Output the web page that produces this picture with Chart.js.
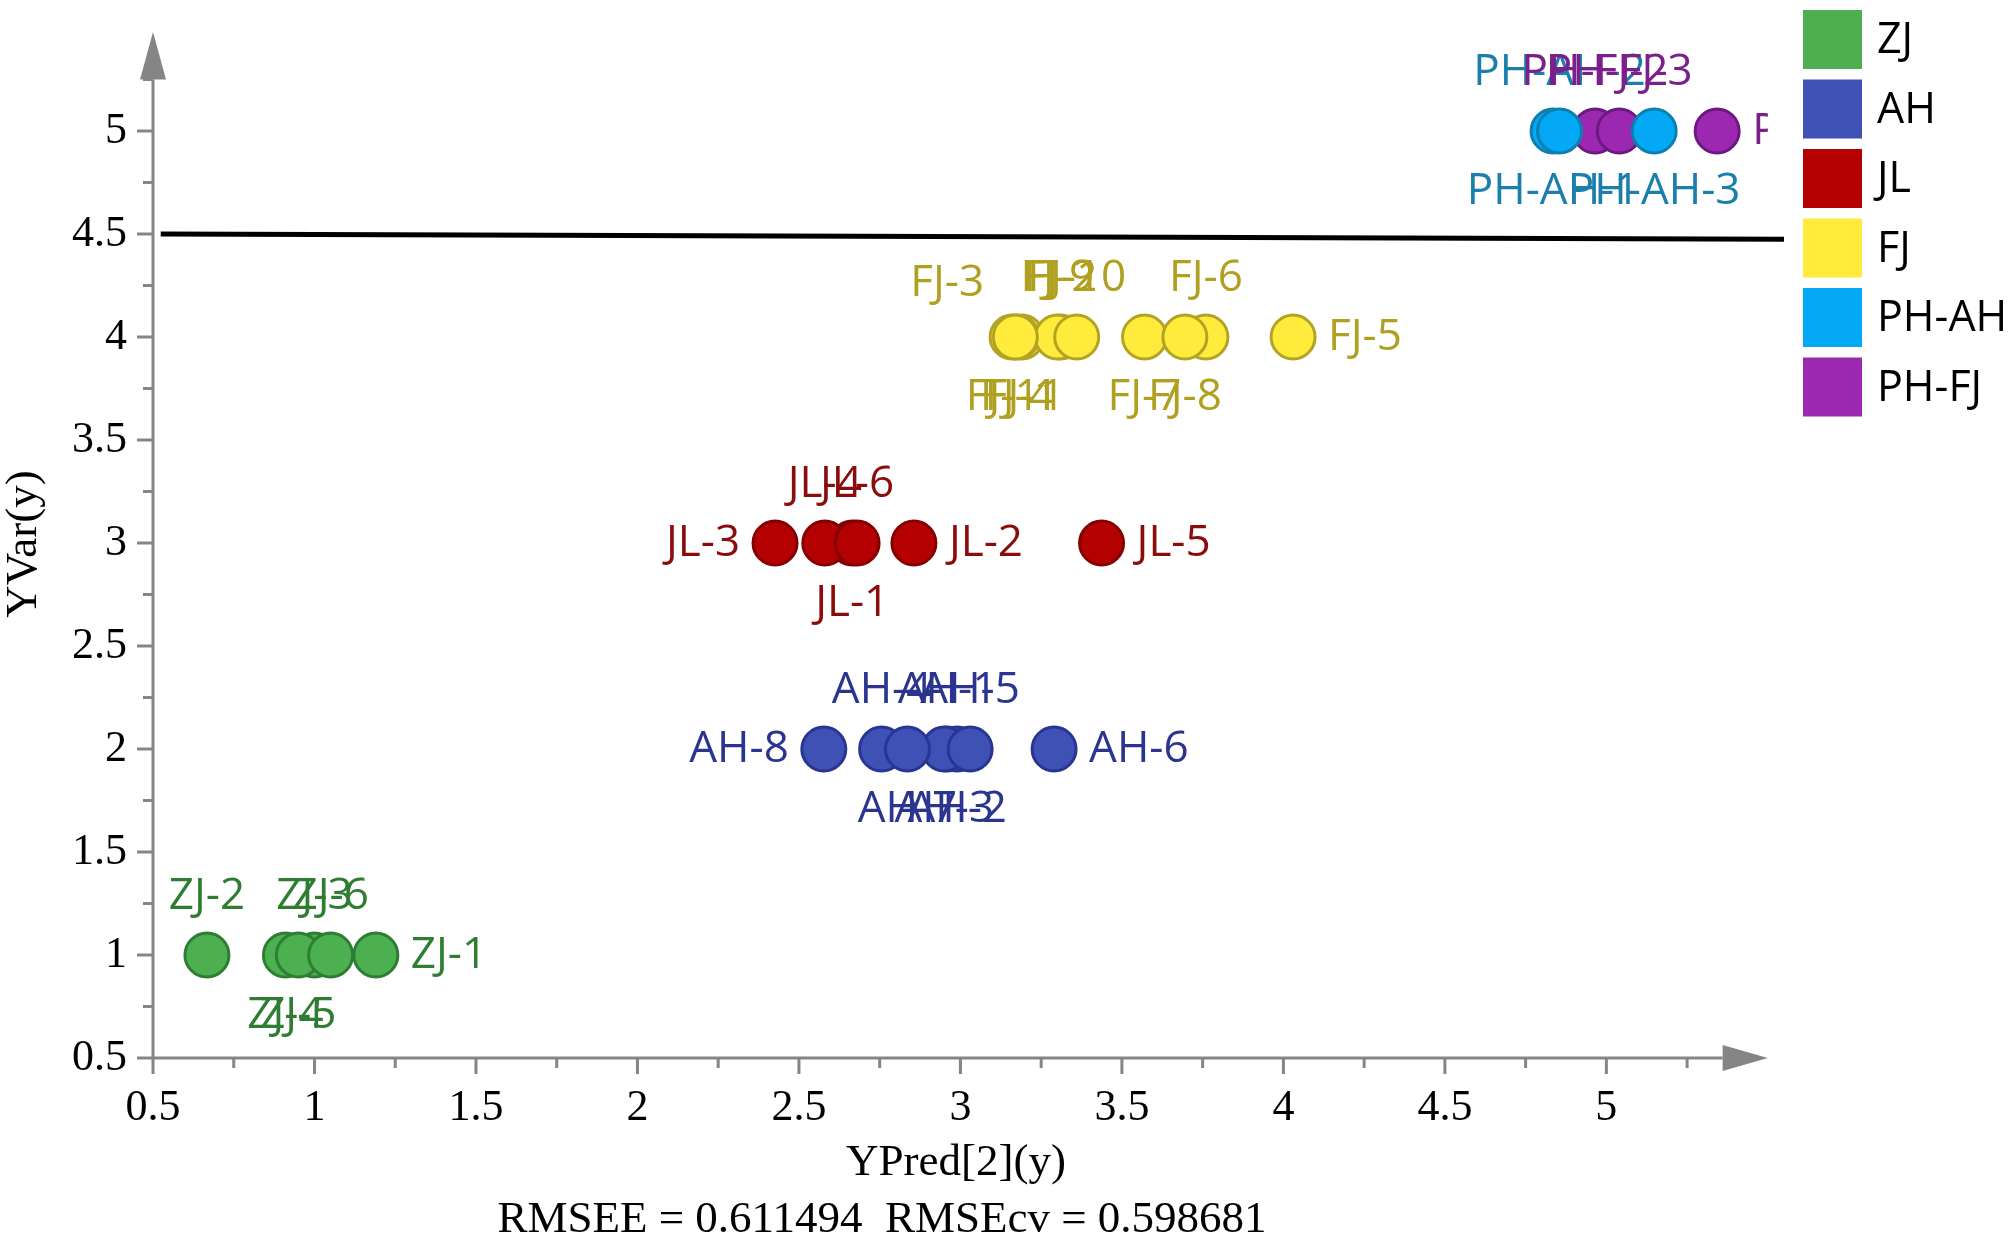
<!DOCTYPE html>
<html><head><meta charset="utf-8">
<script src="https://cdn.jsdelivr.net/npm/chart.js@4.4.1/dist/chart.umd.min.js"></script>
<style>html,body{margin:0;padding:0;background:#fff;overflow:hidden}#wrap{width:2015px;height:1248px;position:relative}canvas{display:block}</style>
</head><body><div id="wrap"><canvas id="c" width="2015" height="1248"></canvas></div>
<script>
// ---------- data ----------
const groups = ['ZJ','AH','JL','FJ','PH-AH','PH-FJ'];

const zjNames = ['ZJ-1','ZJ-2','ZJ-3','ZJ-4','ZJ-5','ZJ-6'];
const zjX = [1.19, 0.667, 1.0, 0.91, 0.95, 1.05];
const zjY = [1, 1, 1, 1, 1, 1];

const ahNames = ['AH-1','AH-2','AH-3','AH-4','AH-5','AH-6','AH-7','AH-8'];
const ahX = [2.96, 2.99, 2.95, 2.756, 3.03, 3.29, 2.836, 2.577];
const ahY = [2, 2, 2, 2, 2, 2, 2, 2];

const jlNames = ['JL-1','JL-2','JL-3','JL-4','JL-5','JL-6'];
const jlX = [2.665, 2.856, 2.426, 2.58, 3.437, 2.68];
const jlY = [3, 3, 3, 3, 3, 3];

const fjNames = ['FJ-1','FJ-2','FJ-3','FJ-4','FJ-5','FJ-6','FJ-7','FJ-8','FJ-9','FJ-10','FJ-11'];
const fjX = [3.19, 3.31, 3.16, 3.175, 4.03, 3.76, 3.57, 3.695, 3.30, 3.36, 3.17];
const fjY = [4, 4, 4, 4, 4, 4, 4, 4, 4, 4, 4];

const phahNames = ['PH-AH-1','PH-AH-2','PH-AH-3'];
const phahX = [4.835, 4.855, 5.148];
const phahY = [5, 5, 5];

const phfjNames = ['PH-FJ-1','PH-FJ-2','PH-FJ-3'];
const phfjX = [5.343, 4.965, 5.04];
const phfjY = [5, 5, 5];

const refLineX = [0.524, 5.55];
const refLineY = [4.5, 4.475];

const xTickValues = [0.5, 1, 1.5, 2, 2.5, 3, 3.5, 4, 4.5, 5];
const yTickValues = [0.5, 1, 1.5, 2, 2.5, 3, 3.5, 4, 4.5, 5];
const xTitle = 'YPred[2](y)';
const yTitle = 'YVar(y)';
const footNote = 'RMSEE = 0.611494  RMSEcv = 0.598681';

// ---------- label placement (style, not data) ----------
const zjLabelPos = ['right','top','top','bottom','bottom','top'];
const ahLabelPos = ['top','bottom','bottom','top','top','right','bottom','left'];
const jlLabelPos = ['bottom','right','left','top','right','top'];
const fjLabelPos = ['bottom','top','topleft','bottom','right','top','bottom','bottom','top','top','bottom'];
const phahLabelPos = ['bottom','top','bottom'];
const phfjLabelPos = ['right','top','top'];

const fills   = ['#4caf50','#3f51b5','#b40000','#ffeb3b','#03a9f4','#9c27b0'];
const borders = ['#2e7d32','#283593','#870000','#b3a325','#0c7fb0','#6c1a80'];
const textCol = ['#2e7d32','#2b3590','#8a0c0c','#b0a020','#1b7fab','#7b1f8a'];

function pts(xs, ys){ return xs.map((x,i)=>({x:x, y:ys[i]})); }
const seriesX = [zjX, ahX, jlX, fjX, phahX, phfjX];
const seriesY = [zjY, ahY, jlY, fjY, phahY, phfjY];
const seriesNames = [zjNames, ahNames, jlNames, fjNames, phahNames, phfjNames];
const seriesPos = [zjLabelPos, ahLabelPos, jlLabelPos, fjLabelPos, phahLabelPos, phfjLabelPos];

const datasets = groups.map((g,i)=>({
  type:'scatter', label:g, data: pts(seriesX[i], seriesY[i]),
  backgroundColor: fills[i], borderColor: borders[i], borderWidth: 3,
  pointRadius: 22, pointHoverRadius: 22,
  pointNames: seriesNames[i], labelPos: seriesPos[i], labelColor: textCol[i]
}));
datasets.push({
  type:'line', label:'ref', data: pts(refLineX, refLineY),
  borderColor:'#000', borderWidth:5, pointRadius:0, clip:false, fill:false
});

const AX = '#858585';
const serif = 'Liberation Serif';
const sans = 'Open Sans';

const decor = {
  id:'decor',
  beforeDatasetsDraw(chart){
    const ctx = chart.ctx, xs = chart.scales.x, ys = chart.scales.y;
    const x0 = xs.getPixelForValue(0.5), y0 = ys.getPixelForValue(0.5);
    ctx.save();
    ctx.strokeStyle = AX; ctx.fillStyle = AX; ctx.lineWidth = 3;
    const yTop = ys.getPixelForValue(5.25), xEnd = xs.getPixelForValue(5.36);
    ctx.beginPath(); ctx.moveTo(x0, y0); ctx.lineTo(x0, yTop); ctx.stroke();
    ctx.beginPath(); ctx.moveTo(x0, y0); ctx.lineTo(xEnd, y0); ctx.stroke();
    const yTip = ys.getPixelForValue(5.48), xTip = xs.getPixelForValue(5.5);
    ctx.beginPath(); ctx.moveTo(x0-13, yTop); ctx.lineTo(x0+13, yTop); ctx.lineTo(x0, yTip); ctx.closePath(); ctx.fill();
    ctx.beginPath(); ctx.moveTo(xEnd, y0-13); ctx.lineTo(xEnd, y0+13); ctx.lineTo(xTip, y0); ctx.closePath(); ctx.fill();
    for (let v = 0.5; v <= 5.26; v += 0.25) {
      const major = Math.abs(v*2 - Math.round(v*2)) < 1e-6;
      const L = major ? 16 : 10;
      const py = ys.getPixelForValue(v);
      ctx.beginPath(); ctx.moveTo(x0 - L, py); ctx.lineTo(x0, py); ctx.stroke();
      const px = xs.getPixelForValue(v);
      ctx.beginPath(); ctx.moveTo(px, y0); ctx.lineTo(px, y0 + L); ctx.stroke();
    }
    ctx.restore();
  },
  afterDraw(chart){
    const ctx = chart.ctx, xs = chart.scales.x;
    ctx.save();
    const clipX = xs.getPixelForValue(5.5);
    ctx.beginPath(); ctx.rect(0, 0, clipX, chart.height); ctx.clip();
    ctx.font = '44px "' + sans + '"';
    chart.data.datasets.forEach((ds, di) => {
      if (!ds.pointNames) return;
      const meta = chart.getDatasetMeta(di);
      ctx.fillStyle = ds.labelColor;
      meta.data.forEach((el, i) => {
        const p = ds.labelPos[i], t = ds.pointNames[i];
        let x = el.x, y = el.y;
        ctx.textBaseline = 'middle';
        if (p === 'top') { ctx.textAlign = 'center'; y -= 59; }
        else if (p === 'bottom') { ctx.textAlign = 'center'; y += 60; }
        else if (p === 'left') { ctx.textAlign = 'right'; x -= 35; }
        else if (p === 'right') { ctx.textAlign = 'left'; x += 35; }
        else if (p === 'topleft') { ctx.textAlign = 'right'; x -= 28; y -= 54; }
        ctx.fillText(t, x, y);
      });
    });
    ctx.restore();
    ctx.save();
    ctx.font = '43px "' + sans + '"';
    ctx.textAlign = 'left'; ctx.textBaseline = 'middle';
    groups.forEach((g, i) => {
      const top = 10 + i * 69.5;
      ctx.fillStyle = fills[i];
      ctx.fillRect(1803, top, 59, 59);
      ctx.fillStyle = '#000';
      ctx.fillText(g, 1877, top + 31);
    });
    ctx.fillStyle = '#000';
    ctx.textAlign = 'center'; ctx.textBaseline = 'middle';
    ctx.font = '45px "' + serif + '"';
    ctx.fillText(xTitle, 956, 1163);
    ctx.fillText(footNote, 882, 1220);
    ctx.save();
    ctx.translate(24, 544); ctx.rotate(-Math.PI/2);
    ctx.fillText(yTitle, 0, 0);
    ctx.restore();
    ctx.restore();
  }
};

function noPad(s){ s.paddingTop = 0; s.paddingBottom = 0; s.paddingLeft = 0; s.paddingRight = 0; }

new Chart(document.getElementById('c'), {
  data: { datasets },
  options: {
    responsive:false, animation:false, devicePixelRatio:1,
    layout:{ padding:{ top:28, right:231, left:0, bottom:0 } },
    plugins:{ legend:{display:false}, tooltip:{enabled:false} },
    scales:{
      x:{ type:'linear', min:0.5, max:5.55,
        afterBuildTicks: s => { s.ticks = xTickValues.map(v => ({value:v})); },
        afterFit: s => { s.height = 190; noPad(s); },
        grid:{ display:false, drawTicks:false }, border:{ display:false },
        ticks:{ font:{ family:serif, size:44 }, color:'#000', padding:24, maxRotation:0, autoSkip:false,
          callback: v => String(v) } },
      y:{ type:'linear', min:0.5, max:5.5,
        afterBuildTicks: s => { s.ticks = yTickValues.map(v => ({value:v})); },
        afterFit: s => { s.width = 153; noPad(s); },
        grid:{ display:false, drawTicks:false }, border:{ display:false },
        ticks:{ font:{ family:serif, size:44 }, color:'#000', padding:26, autoSkip:false,
          callback: v => String(v) } }
    }
  },
  plugins:[decor]
});
</script></body></html>
